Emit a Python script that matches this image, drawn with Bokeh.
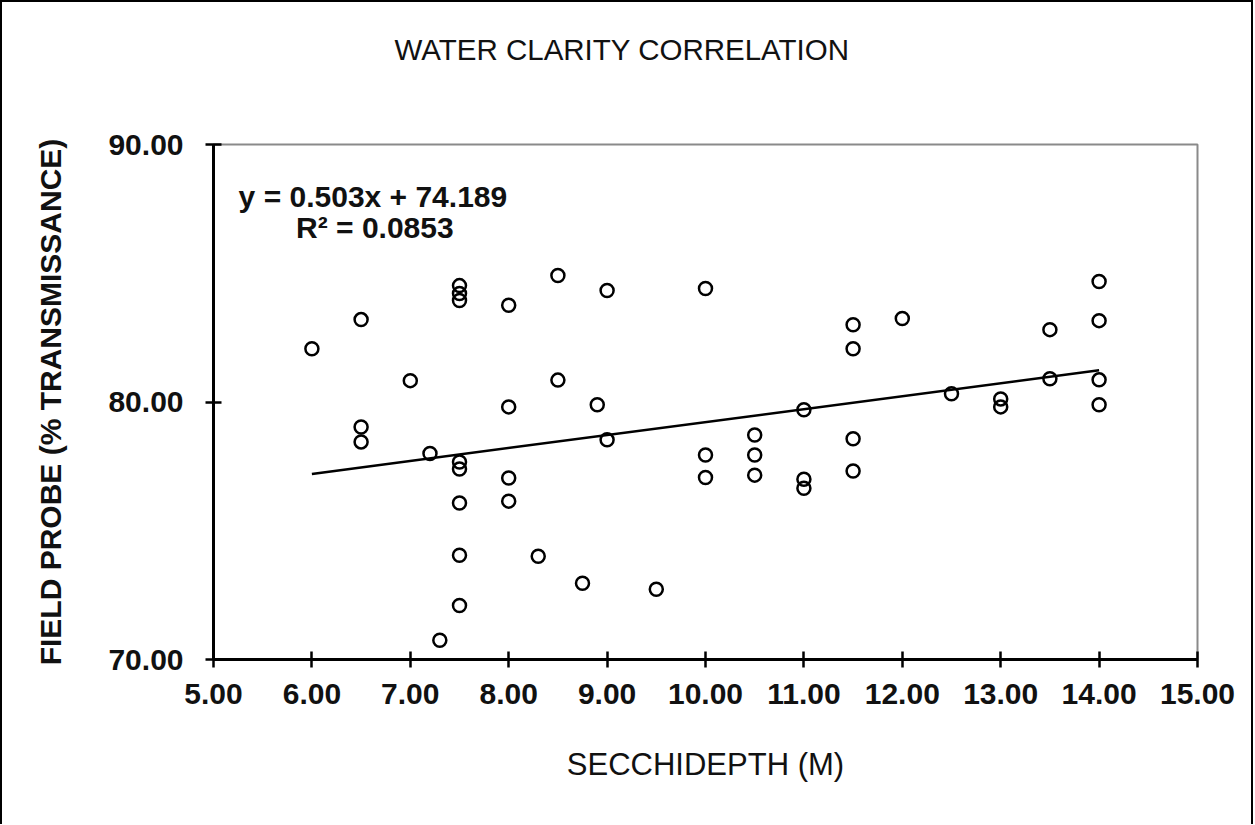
from bokeh.plotting import figure
from bokeh.models import FixedTicker, PrintfTickFormatter, Label, Range1d, LinearAxis
from bokeh.embed import file_html
from bokeh.resources import INLINE

# ---- data ----
secchi_depth = [6.0, 6.5, 6.5, 6.5, 7.0, 7.2, 7.3,
                7.5, 7.5, 7.5, 7.5, 7.5, 7.5, 7.5, 7.5,
                8.0, 8.0, 8.0, 8.0, 8.3, 8.5, 8.5, 8.75, 8.9, 9.0, 9.0, 9.5,
                10.0, 10.0, 10.0, 10.5, 10.5, 10.5, 11.0, 11.0, 11.0,
                11.5, 11.5, 11.5, 11.5, 12.0, 12.5, 13.0, 13.0, 13.5, 13.5,
                14.0, 14.0, 14.0, 14.0]
transmissance = [82.07, 83.2, 79.03, 78.45, 80.83, 78.0, 70.75,
                 84.52, 84.21, 83.94, 77.67, 77.4, 76.08, 74.05, 72.1,
                 83.76, 79.81, 77.05, 76.15, 74.01, 84.91, 80.85, 72.96, 79.89, 84.33, 78.53, 72.73,
                 84.41, 77.94, 77.07, 78.72, 77.94, 77.16, 79.7, 77.0, 76.65,
                 83.0, 82.07, 78.57, 77.32, 83.24, 80.32, 80.12, 79.81, 82.81, 80.9,
                 84.68, 83.16, 80.86, 79.89]
slope = 0.503
intercept = 74.189
r_squared = 0.0853
x_ticks = [5, 6, 7, 8, 9, 10, 11, 12, 13, 14, 15]
y_ticks = [70, 80, 90]
title_text = "WATER CLARITY CORRELATION"

FONT = "Liberation Sans"

p = figure(width=1253, height=824, x_range=Range1d(5, 15), y_range=Range1d(70, 90),
           output_backend="svg", toolbar_location=None,
           min_border_left=211, min_border_right=58, min_border_top=142, min_border_bottom=167)
p.styles = {"border-left": "2px solid black", "border-top": "2px solid black",
            "border-right": "2px solid black"}
p.background_fill_color = "white"
p.border_fill_color = "white"
p.xgrid.visible = False
p.ygrid.visible = False
p.outline_line_color = "#8a8a8a"
p.outline_line_width = 2

xax = p.below[0]
yax = p.left[0]

for ax in (xax, yax):
    ax.formatter = PrintfTickFormatter(format="%.2f")
    ax.axis_line_width = 3
    ax.axis_line_color = "black"
    ax.major_tick_line_width = 2.5
    ax.major_tick_line_color = "black"
    ax.major_tick_in = 8
    ax.major_tick_out = 8
    ax.minor_tick_line_color = None
    ax.major_label_text_font = FONT
    ax.major_label_text_font_style = "bold"
    ax.major_label_text_font_size = "30px"
    ax.major_label_text_color = "#111111"
    ax.axis_label_text_font = FONT
    ax.axis_label_text_color = "#111111"

xax.ticker = FixedTicker(ticks=x_ticks)
yax.ticker = FixedTicker(ticks=y_ticks)
xax.major_label_standoff = 16
yax.major_label_standoff = 22
xax.axis_label = "SECCHIDEPTH (M)"
xax.axis_label_text_font_style = "normal"
xax.axis_label_text_font_size = "31px"
xax.axis_label_standoff = 40
yax.axis_label = "FIELD PROBE (% TRANSMISSANCE)"
yax.axis_label_text_font_style = "bold"
yax.axis_label_text_font_size = "30px"
yax.axis_label_standoff = 38

# invisible spacer between the frame and the title: one hidden tick, empty label
spacer = LinearAxis(ticker=FixedTicker(ticks=[10]), axis_line_color=None,
                    major_tick_line_color=None, minor_tick_line_color=None,
                    major_tick_in=0, major_tick_out=74, minor_tick_in=0, minor_tick_out=0,
                    major_label_standoff=0, axis_label_standoff=0,
                    major_label_overrides={10: ""},
                    major_label_text_font_size="0px")
p.add_layout(spacer, "above")

p.title.text = title_text
p.title.align = "left"
p.title.offset = 181
p.title.standoff = 10
p.title.text_font = FONT
p.title.text_font_style = "normal"
p.title.text_font_size = "29.5px"
p.title.text_color = "#111111"

# points
p.scatter(secchi_depth, transmissance, marker="circle", size=13,
          fill_alpha=0, line_color="black", line_width=2.5)

# trend line
x0, x1 = min(secchi_depth), max(secchi_depth)
p.line([x0, x1], [slope * x0 + intercept, slope * x1 + intercept],
       line_color="black", line_width=2.5)

# equation
p.add_layout(Label(x=6.62, y=88.0, text=f"y = {slope}x + {intercept}",
                   text_align="center", text_baseline="middle",
                   text_font=FONT, text_font_style="bold", text_font_size="30px",
                   text_color="#111111"))
p.add_layout(Label(x=6.64, y=86.77, text=f"R\u00b2 = {r_squared}",
                   text_align="center", text_baseline="middle",
                   text_font=FONT, text_font_style="bold", text_font_size="30px",
                   text_color="#111111"))

open("out.html", "w").write(file_html(p, INLINE))
